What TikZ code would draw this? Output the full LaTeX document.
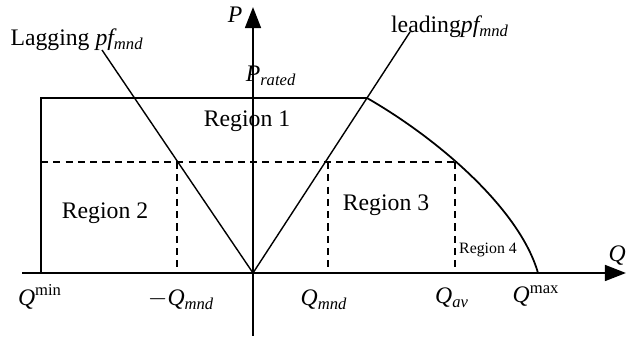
\documentclass[tikz,border=0pt]{standalone}
\usepackage{fontspec}
\setmainfont{Liberation Serif}
\usepackage{tikz}
\usetikzlibrary{arrows.meta, positioning, calc}

\newcommand{\lowtxt}[1]{\textsubscript{\itshape #1}}
\newcommand{\hightxt}[1]{\textsuperscript{#1}}

\begin{document}
\begin{tikzpicture}[
    x=0.02cm, y=-0.02cm,
    axis/.style={
        -{Triangle[length=12pt, width=9pt]},
        line width=1.3pt
    },
    limit/.style={
        line width=1pt
    },
    pfline/.style={
        line width=0.8pt
    },
    guide/.style={
        line width=0.7pt,
        dash pattern=on 4pt off 3pt
    },
    lbl/.style={
        inner sep=0pt,
        font=\fontsize{13.5}{16}\selectfont
    },
    smalllbl/.style={
        inner sep=0pt,
        font=\fontsize{9}{11}\selectfont
    }
]
    \useasboundingbox (0,0) rectangle (626,337);

    % key points
    \coordinate (O) at (253,273);
    \coordinate (qstart) at (22,273);
    \coordinate (qend) at (626,273);
    \coordinate (pstart) at (253,336);
    \coordinate (pend) at (253,7);
    \coordinate (qmin) at (41,273);
    \coordinate (topleft) at (41,98);
    \coordinate (knee) at (367,98);
    \coordinate (qmax) at (538,273);
    \coordinate (lagtop) at (102,50);
    \coordinate (leadtop) at (410,32);
    \coordinate (dashleft) at (41,162);
    \coordinate (dashright) at (455,162);
    \coordinate (mqmnd) at (177,273);
    \coordinate (mqmndtop) at (177,162);
    \coordinate (qmnd) at (328,273);
    \coordinate (qmndtop) at (328,162);
    \coordinate (qav) at (455,273);

    % axes
    \draw[axis] (qstart) -- (qend);
    \draw[axis] (pstart) -- (pend);

    % capability limit
    \draw[limit] (qmin) -- (topleft) -- (knee)
        .. controls (440,140) and (520,210) .. (qmax);

    % power factor lines
    \draw[pfline] (O) -- (lagtop);
    \draw[pfline] (O) -- (leadtop);

    % dashed guides
    \draw[guide] (dashleft) -- (dashright);
    \draw[guide] (mqmndtop) -- (mqmnd);
    \draw[guide] (qmndtop) -- (qmnd);
    \draw[guide] (dashright) -- (qav);

    % labels
    \node[lbl] (plabel) at (235,15) {\itshape P};
    \node[lbl, anchor=east] (qlabel) at (626,256) {\itshape Q};
    \node[lbl] (prated) at (271,76) {\itshape P\lowtxt{rated}};
    \node[lbl] (lagging) at (77,40) {Lagging \itshape pf\lowtxt{mnd}};
    \node[lbl] (leading) at (450,27) {leading\itshape pf\lowtxt{mnd}};
    \node[lbl] (reg1) at (247,121) {Region 1};
    \node[lbl] (reg2) at (105,213) {Region 2};
    \node[lbl] (reg3) at (386,205) {Region 3};
    \node[smalllbl] (reg4) at (488,250) {Region 4};
    \node[lbl] (qminlbl) at (40,297) {\itshape Q\upshape\hightxt{min}};
    \node[lbl] (mqmndlbl) at (181,300) {\itshape $-$Q\lowtxt{mnd}};
    \node[lbl] (qmndlbl) at (324,300) {\itshape Q\lowtxt{mnd}};
    \node[lbl] (qavlbl) at (452,298) {\itshape Q\lowtxt{av}};
    \node[lbl] (qmaxlbl) at (536,296) {\itshape Q\upshape\hightxt{max}};
\end{tikzpicture}
\end{document}
